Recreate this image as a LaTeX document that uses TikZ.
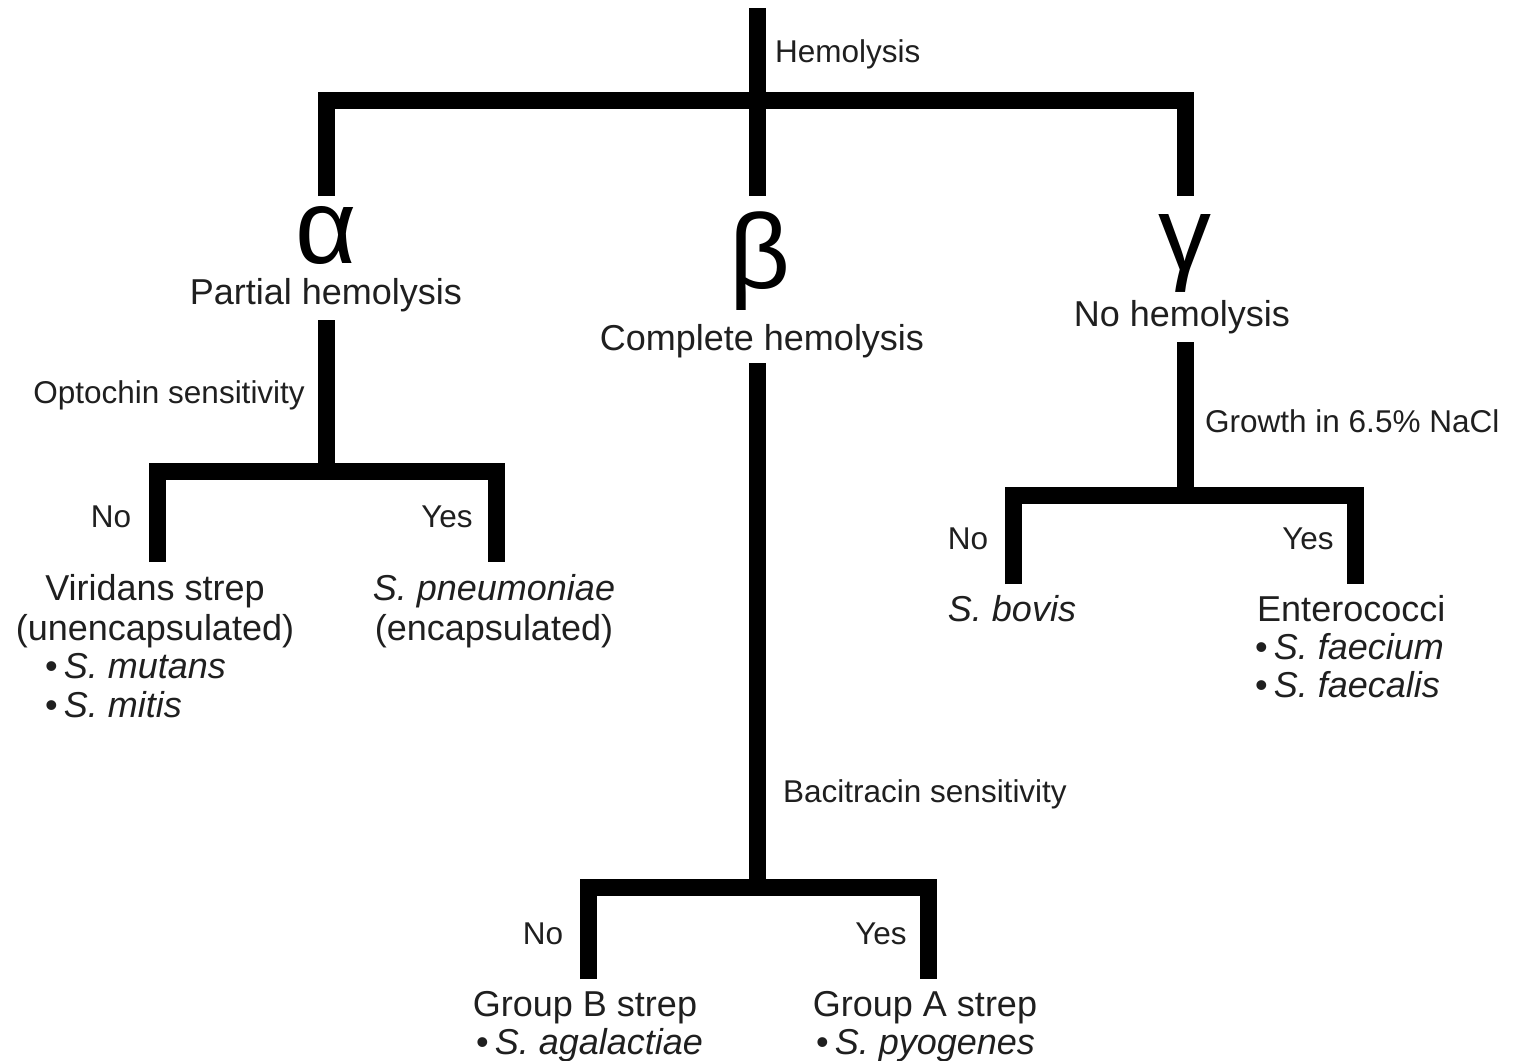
\documentclass[tikz,border=0pt]{standalone}
\usepackage{fontspec}
\setmainfont{Liberation Sans}
\begin{document}
\begin{tikzpicture}[x=1pt,y=-1pt,
  bar/.style={line width=17pt, line join=miter, line cap=butt, black},
  lab/.style={font=\fontsize{31.5}{36}\selectfont, inner sep=0pt, text=black!88},
  mainlab/.style={font=\fontsize{36}{39}\selectfont, inner sep=0pt, text=black!88},
  greek/.style={font=\fontsize{106}{106}\selectfont, inner sep=0pt, text=black}]
\useasboundingbox (0,0) rectangle (1514,1060);

% junction coordinates
\coordinate (top) at (757,8);
\coordinate (hj) at (757,100);
\coordinate (aT) at (326,196);
\coordinate (bT) at (757,196);
\coordinate (gT) at (1185,196);
\coordinate (aS) at (326,320);
\coordinate (aJ) at (326,471);
\coordinate (aNo) at (157,562);
\coordinate (aYes) at (496,562);
\coordinate (bS) at (757,363);
\coordinate (bJ) at (757,887);
\coordinate (bNo) at (588,979);
\coordinate (bYes) at (928,979);
\coordinate (gS) at (1185,342);
\coordinate (gJ) at (1185,495);
\coordinate (gNo) at (1013,584);
\coordinate (gYes) at (1355,584);

% connectors
\draw[bar] (top) -- (hj);
\draw[bar] (aT) |- (hj) -| (gT);
\draw[bar] (hj) -- (bT);
\draw[bar] (aS) -- (aJ);
\draw[bar] (aNo) |- (aJ) -| (aYes);
\draw[bar] (bS) -- (bJ);
\draw[bar] (bNo) |- (bJ) -| (bYes);
\draw[bar] (gS) -- (gJ);
\draw[bar] (gNo) |- (gJ) -| (gYes);

% top label
\node[lab, anchor=base west] (hemo) at (775,62) {Hemolysis};

% greek letters
\node[greek, anchor=base, text depth=0pt] (alpha) at (326,263) {α};
\node[greek, anchor=base] (beta) at (760,288) {β};
\node[greek, anchor=base] (gamma) at (1185,270) {γ};

\node[mainlab, anchor=base] (partial) at (326,304) {Partial hemolysis};
\node[mainlab, anchor=base] (complete) at (762,350) {Complete hemolysis};
\node[mainlab, anchor=base] (nohemo) at (1182,326) {No hemolysis};

% alpha branch
\node[lab, anchor=base east] (opto) at (305,403) {Optochin sensitivity};
\node[lab, anchor=base] (aNoL) at (111,527) {No};
\node[lab, anchor=base] (aYesL) at (447,527) {Yes};
\node[mainlab, anchor=base] (vir1) at (155,600) {Viridans strep};
\node[mainlab, anchor=base] (vir2) at (155,640) {(unencapsulated)};
\node[mainlab, anchor=base west] (vir3) at (45,678) {•\,\textit{S. mutans}};
\node[mainlab, anchor=base west] (vir4) at (45,717) {•\,\textit{S. mitis}};
\node[mainlab, anchor=base] (pn1) at (494,600) {\textit{S. pneumoniae}};
\node[mainlab, anchor=base] (pn2) at (494,640) {(encapsulated)};

% beta branch
\node[lab, anchor=base west] (baci) at (783,802) {Bacitracin sensitivity};
\node[lab, anchor=base] (bNoL) at (543,944) {No};
\node[lab, anchor=base] (bYesL) at (881,944) {Yes};
\node[mainlab, anchor=base] (gb1) at (585,1016) {Group B strep};
\node[mainlab, anchor=base west] (gb2) at (476,1054) {•\,\textit{S. agalactiae}};
\node[mainlab, anchor=base] (ga1) at (925,1016) {Group A strep};
\node[mainlab, anchor=base west] (ga2) at (816,1054) {•\,\textit{S. pyogenes}};

% gamma branch
\node[lab, anchor=base west] (nacl) at (1205,432) {Growth in 6.5\% NaCl};
\node[lab, anchor=base] (gNoL) at (968,549) {No};
\node[lab, anchor=base] (gYesL) at (1308,549) {Yes};
\node[mainlab, anchor=base] (bovis) at (1012,621) {\textit{S. bovis}};
\node[mainlab, anchor=base west] (ent1) at (1257,621) {Enterococci};
\node[mainlab, anchor=base west] (ent2) at (1255,659) {•\,\textit{S. faecium}};
\node[mainlab, anchor=base west] (ent3) at (1255,697) {•\,\textit{S. faecalis}};
\end{tikzpicture}
\end{document}
